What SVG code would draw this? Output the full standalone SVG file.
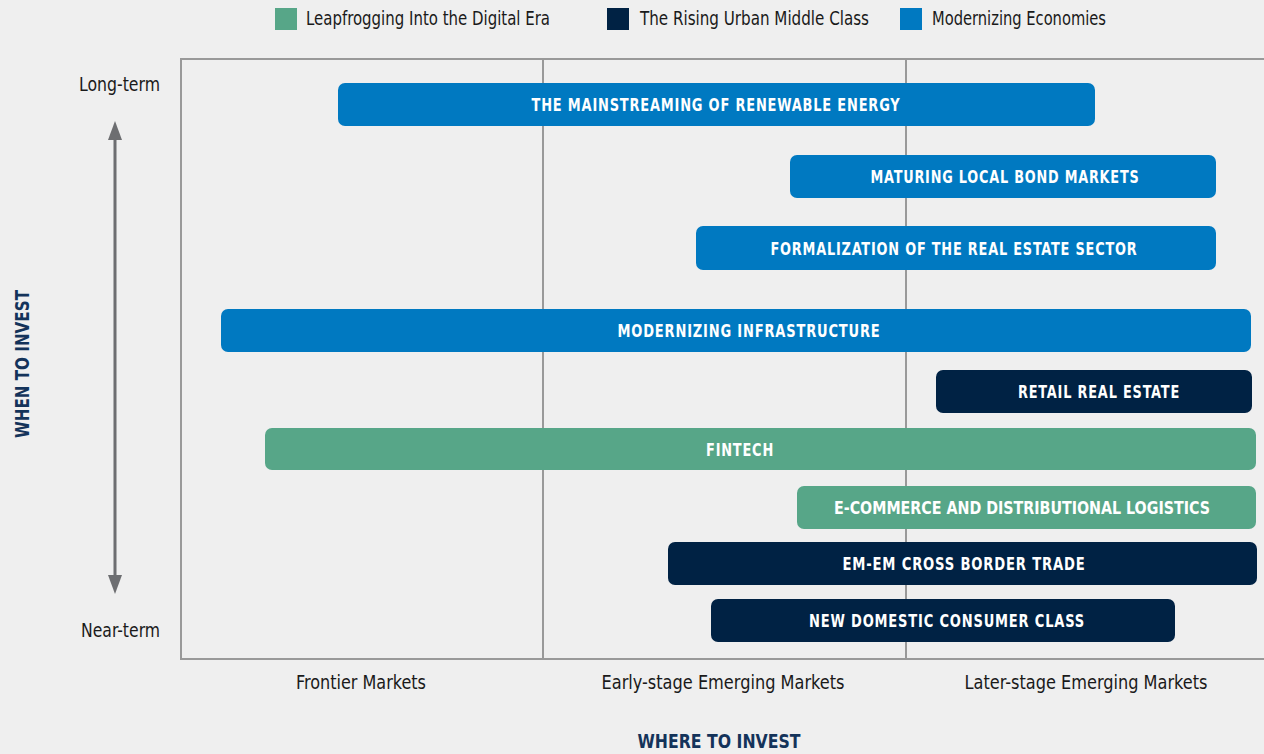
<svg xmlns="http://www.w3.org/2000/svg" width="1264" height="754" viewBox="0 0 1264 754">
<style>
text{font-family:"DejaVu Sans Condensed","Liberation Sans",sans-serif}
.bar text{font-weight:bold;font-size:18px;fill:#fff;text-anchor:middle;letter-spacing:1px}
.bar text.tight{letter-spacing:0;font-size:17.5px}
.blue{fill:#0079c1}.navy{fill:#002244}.green{fill:#57a688}
.lbl{font-size:19px;fill:#1a1a1a}
.ax{font-size:19px;fill:#1a1a1a;text-anchor:middle}
.title{font-size:20px;font-weight:bold;fill:#14335a;text-anchor:middle}
.grid{stroke:#999;stroke-width:2;fill:none}
.head{fill:#6d6e71}
</style>
<rect width="1264" height="754" fill="#efefef"/>
<g id="legend">
<rect x="275" y="8" width="22" height="22" class="green"/>
<text x="306" y="25" class="lbl" textLength="244" lengthAdjust="spacingAndGlyphs">Leapfrogging Into the Digital Era</text>
<rect x="607" y="8" width="22" height="22" class="navy"/>
<text x="640" y="25" class="lbl" textLength="229" lengthAdjust="spacingAndGlyphs">The Rising Urban Middle Class</text>
<rect x="900" y="8" width="22" height="22" class="blue"/>
<text x="932" y="25" class="lbl" textLength="174" lengthAdjust="spacingAndGlyphs">Modernizing Economies</text>
</g>
<g id="frame">
<polyline class="grid" points="1264,59 181,59 181,659 1264,659"/>
<line class="grid" x1="543" y1="59" x2="543" y2="659"/>
<line class="grid" x1="906" y1="59" x2="906" y2="659"/>
</g>
<g id="connectors">
<line x1="115" y1="138" x2="115" y2="577" stroke="#6d6e71" stroke-width="3"/>
<polygon class="head" points="115,121 122,140 108,140"/>
<polygon class="head" points="115,594 122,575 108,575"/>
</g>
<g id="axis-labels">
<text x="160" y="91" class="lbl" text-anchor="end" textLength="81" lengthAdjust="spacingAndGlyphs">Long-term</text>
<text x="160" y="637" class="lbl" text-anchor="end" textLength="79" lengthAdjust="spacingAndGlyphs">Near-term</text>
<text x="361" y="689" class="ax" textLength="130" lengthAdjust="spacingAndGlyphs">Frontier Markets</text>
<text x="723" y="689" class="ax" textLength="243" lengthAdjust="spacingAndGlyphs">Early-stage Emerging Markets</text>
<text x="1086" y="689" class="ax" textLength="243" lengthAdjust="spacingAndGlyphs">Later-stage Emerging Markets</text>
<text x="719" y="748" class="title" textLength="163" lengthAdjust="spacingAndGlyphs">WHERE TO INVEST</text>
<text transform="translate(29,364) rotate(-90)" class="title" textLength="148" lengthAdjust="spacingAndGlyphs">WHEN TO INVEST</text>
</g>
<g id="n1" class="bar"><rect x="338" y="83" width="757" height="43" rx="7" class="blue"/><text x="716" y="111" textLength="369" lengthAdjust="spacingAndGlyphs">THE MAINSTREAMING OF RENEWABLE ENERGY</text></g>
<g id="n2" class="bar"><rect x="790" y="155" width="426" height="43" rx="7" class="blue"/><text x="1005" y="183" textLength="269" lengthAdjust="spacingAndGlyphs">MATURING LOCAL BOND MARKETS</text></g>
<g id="n3" class="bar"><rect x="696" y="226" width="520" height="44" rx="7" class="blue"/><text x="954" y="255" textLength="367" lengthAdjust="spacingAndGlyphs">FORMALIZATION OF THE REAL ESTATE SECTOR</text></g>
<g id="n4" class="bar"><rect x="221" y="309" width="1030" height="43" rx="7" class="blue"/><text x="749" y="337" textLength="263" lengthAdjust="spacingAndGlyphs">MODERNIZING INFRASTRUCTURE</text></g>
<g id="n5" class="bar"><rect x="936" y="370" width="316" height="43" rx="7" class="navy"/><text x="1099" y="398" textLength="162" lengthAdjust="spacingAndGlyphs">RETAIL REAL ESTATE</text></g>
<g id="n6" class="bar"><rect x="265" y="428" width="991" height="42" rx="7" class="green"/><text x="740" y="456" textLength="68" lengthAdjust="spacingAndGlyphs">FINTECH</text></g>
<g id="n7" class="bar"><rect x="797" y="486" width="459" height="43" rx="7" class="green"/><text class="tight" x="1022" y="514" textLength="376" lengthAdjust="spacingAndGlyphs">E-COMMERCE AND DISTRIBUTIONAL LOGISTICS</text></g>
<g id="n8" class="bar"><rect x="668" y="542" width="589" height="43" rx="7" class="navy"/><text x="964" y="570" textLength="243" lengthAdjust="spacingAndGlyphs">EM-EM CROSS BORDER TRADE</text></g>
<g id="n9" class="bar"><rect x="711" y="599" width="464" height="43" rx="7" class="navy"/><text x="947" y="627" textLength="276" lengthAdjust="spacingAndGlyphs">NEW DOMESTIC CONSUMER CLASS</text></g>
</svg>
